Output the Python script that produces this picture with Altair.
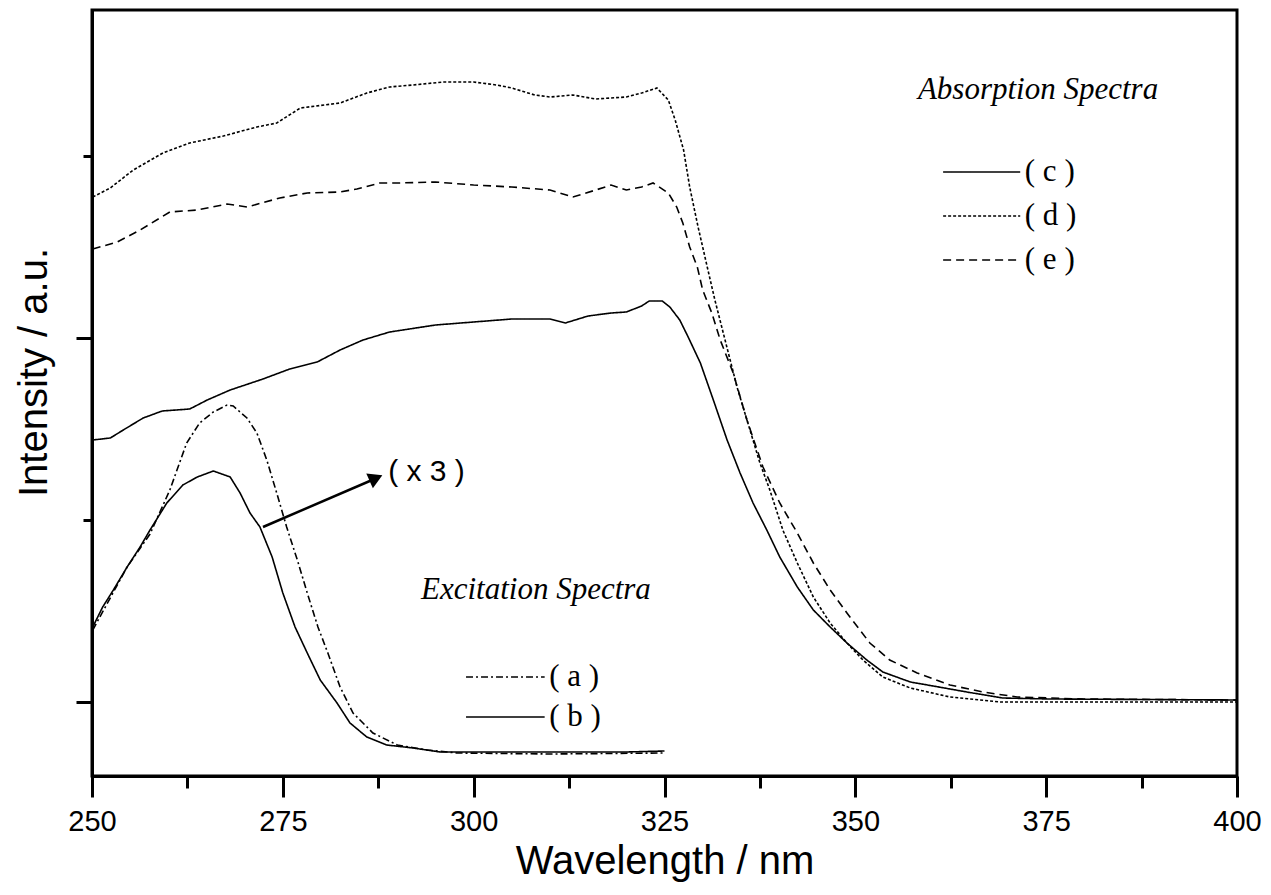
import altair as alt
import pandas as pd

# ---- data (wavelength nm, intensity a.u.) ----
c_nm = [250.1, 252.4, 254.1, 256.7, 259.2, 262.8, 265.1, 268.1, 272.4, 275.9, 279.5, 282.5, 285.5, 289.0,
        295, 300, 305, 310, 312, 315, 318, 320, 322, 323, 324.7, 325.7, 327, 328.1, 329.7, 331.4, 333.2,
        334.9, 336.6, 338.4, 340.1, 342.4, 344.5, 346.7, 348.9, 351.5, 353.6, 357.2, 360.2, 364.6, 369.3,
        375.5, 400]
c_val = [262, 264, 272, 284, 291, 293, 302, 312, 323, 333, 340, 352, 362, 370,
         377, 380, 383, 383, 379, 386, 389, 390, 396, 401, 401, 395, 382, 365, 339, 302, 262,
         229, 199, 172, 145, 115, 92, 75, 59, 42, 30, 20, 16, 10, 4,
         3, 2]

d_nm = [250.1, 252.4, 255.4, 259.3, 262.8, 267.2, 271.6, 274.2, 277.3, 282.5, 286.0, 289.0, 292, 296,
        300, 303, 305, 308, 310, 313, 316, 320, 322, 324.0, 325.5, 326.4, 327.5, 328.3, 329.4, 330.6,
        331.6, 332.7, 334.5, 336.2, 337.5, 338.8, 340.5, 342.4, 344.5, 346.7, 348.9, 351.0, 353.6, 357.2,
        362.4, 369.0, 380, 400]
d_val = [505, 514, 532, 549, 559, 566, 575, 579, 594, 599, 609, 615, 617, 620,
         620, 617, 614, 607, 605, 607, 603, 605, 609, 614, 602, 582, 552, 515, 475, 435,
         402, 369, 315, 272, 239, 212, 172, 139, 105, 79, 59, 42, 25, 14,
         5, 0, 0, 0]

e_nm = [250.1, 253.3, 256.3, 260.2, 263.8, 267.7, 270.3, 274.6, 278.2, 282.5, 284.7, 287.7, 290, 295,
        300, 305, 310, 313, 316, 318, 320, 322, 323.5, 325.5, 326.6, 327.4, 328.3, 329.3, 330.0, 331.2,
        332.3, 334.0, 335.8, 337.9, 340.1, 342.4, 344.5, 346.7, 348.9, 351.9, 354.5, 358.1, 362.4, 366.7,
        371.2, 379.8, 400]
e_val = [453, 460, 472, 490, 492, 498, 495, 504, 509, 510, 513, 519, 519, 520,
         517, 515, 512, 505, 512, 517, 512, 515, 519, 509, 495, 479, 455, 435, 412, 389,
         362, 329, 282, 235, 199, 169, 139, 112, 89, 59, 42, 29, 17, 10,
         5, 3, 2]

a_nm = [250.1, 254.6, 257.6, 260.2, 262.4, 264.1, 265.9, 267.7, 268.5, 270.3, 271.6, 272.9, 274.2, 275.5,
        276.9, 278.2, 279.6, 280.9, 282.5, 284.2, 286.8, 290.0, 293.9, 297.8, 310, 325]
a_val = [72, 135, 168, 212, 259, 279, 290, 297, 296, 284, 269, 242, 209, 175,
         142, 109, 75, 49, 15, -11, -31, -43, -48, -51, -52, -51]

b_nm = [250.1, 251.4, 252.8, 254.6, 256.3, 257.6, 259.8, 261.9, 263.8, 265.9, 268.1, 269.4, 270.7, 272.0,
        273.6, 275.0, 276.6, 278.2, 279.9, 282.1, 283.8, 286.0, 288.6, 292.1, 295.6, 300, 310, 320, 325]
b_val = [75, 95, 112, 135, 155, 172, 199, 217, 225, 231, 225, 209, 189, 175,
         145, 109, 75, 49, 22, -1, -21, -35, -43, -46, -50, -50, -50, -50, -49]

x_ticks = [250, 262.5, 275, 287.5, 300, 312.5, 325, 337.5, 350, 362.5, 375, 387.5, 400]
y_ticks = [0, 182, 364, 546]

# legend / annotation anchors in data units
abs_legend = ["c", "d", "e"]
abs_leg_y = [530, 486, 442]
abs_leg_x = [361.5, 371.6]
exc_legend = ["a", "b"]
exc_leg_y = [25, -15]
exc_leg_x = [299.0, 309.3]

# ---- build tables ----
def series(name, xs, ys):
    return pd.DataFrame({"nm": xs, "v": ys, "s": name})

dash = {"a": [7, 3, 2, 3], "b": [1, 0], "c": [1, 0], "d": [3, 2], "e": [8, 5]}

X = alt.X("nm:Q", scale=alt.Scale(domain=[250, 400], nice=False, zero=False),
          axis=alt.Axis(values=x_ticks, title="Wavelength / nm", labelFlush=False,
                        labelExpr="datum.value % 25 === 0 ? datum.label : ''",
                        tickSize={"condition": {"test": "(datum.value % 25) == 0", "value": 21}, "value": 12},
                        labelPadding=10, titlePadding=5))
Y = alt.Y("v:Q", scale=alt.Scale(domain=[-74, 692], nice=False, zero=False),
          axis=alt.Axis(values=y_ticks, title="Intensity / a.u.", labels=False,
                        tickSize={"condition": {"test": "datum.value % 364 === 0", "value": 16}, "value": 9},
                        titlePadding=20, titleY=362))

layers = []
for name, xs, ys in [("a", a_nm, a_val), ("b", b_nm, b_val), ("c", c_nm, c_val),
                     ("d", d_nm, d_val), ("e", e_nm, e_val)]:
    layers.append(alt.Chart(series(name, xs, ys)).mark_line(
        color="black", strokeWidth=1.6, strokeDash=dash[name]).encode(x=X, y=Y, order="nm:Q"))

# legend sample lines
for names, ys, xr in [(abs_legend, abs_leg_y, abs_leg_x), (exc_legend, exc_leg_y, exc_leg_x)]:
    for n, yv in zip(names, ys):
        df = pd.DataFrame({"nm": xr, "v": [yv, yv]})
        layers.append(alt.Chart(df).mark_line(color="black", strokeWidth=1.6, strokeDash=dash[n])
                      .encode(x="nm:Q", y="v:Q"))
    tdf = pd.DataFrame({"nm": [xr[1] + 0.6] * len(names), "v": ys,
                        "t": ["( " + n + " )" for n in names]})
    layers.append(alt.Chart(tdf).mark_text(align="left", baseline="middle", font="Liberation Serif",
                                           fontSize=31, color="black")
                  .encode(x="nm:Q", y="v:Q", text="t:N"))

titles = pd.DataFrame({"nm": [358.2, 293.1], "v": [612, 112],
                       "t": ["Absorption Spectra", "Excitation Spectra"]})
layers.append(alt.Chart(titles).mark_text(align="left", baseline="middle", font="Liberation Serif",
                                          fontStyle="italic", fontSize=31, color="black")
              .encode(x="nm:Q", y="v:Q", text="t:N"))

# x3 annotation
x3 = pd.DataFrame({"nm": [288.8], "v": [230], "t": ["( x 3 )"]})
layers.append(alt.Chart(x3).mark_text(align="left", baseline="middle", font="Liberation Sans",
                                      fontSize=30, color="black")
              .encode(x="nm:Q", y="v:Q", text="t:N"))
arrow = pd.DataFrame({"nm": [272.4, 287.0], "v": [175, 223]})
layers.append(alt.Chart(arrow).mark_line(color="black", strokeWidth=2.5).encode(x="nm:Q", y="v:Q"))
head = pd.DataFrame({"nm": [287.2], "v": [224]})
layers.append(alt.Chart(head).mark_point(shape="triangle-up", filled=True, color="black", size=260,
                                         opacity=1, angle=66).encode(x="nm:Q", y="v:Q"))

chart = alt.layer(*layers).properties(
    width=1145, height=766,
    padding={"left": 84, "top": 2, "right": 26, "bottom": 110},
    autosize=alt.AutoSizeParams(type="none"),
).configure_view(stroke="black", strokeWidth=3).configure_axis(
    domainColor="black", domainWidth=3, tickColor="black", tickWidth=3,
    labelFont="Liberation Sans", labelFontSize=29, labelColor="black",
    titleFont="Liberation Sans", titleFontSize=40, titleFontWeight="normal", titleColor="black",
    grid=False,
)

chart.save("out.html", embed_options={"renderer": "svg", "actions": False})
